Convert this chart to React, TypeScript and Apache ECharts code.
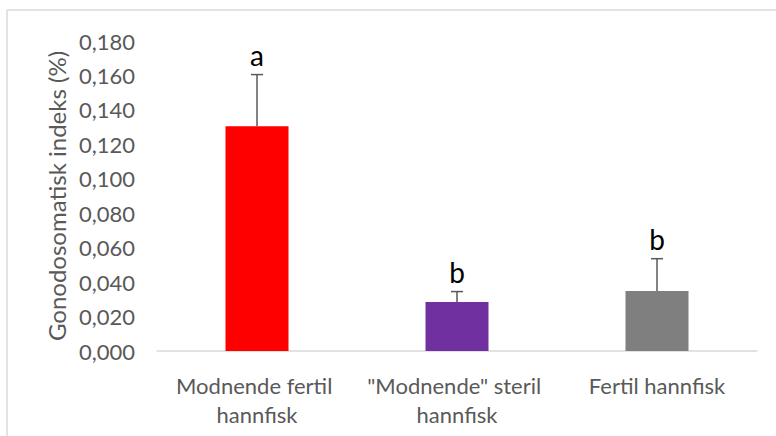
import React, { useEffect, useRef } from "react";
import * as echarts from "echarts";

const categories = ["Modnende fertil hannfisk", "\"Modnende\" steril hannfisk", "Fertil hannfisk"];
const means = [0.1305, 0.0285, 0.0348];
const errors = [0.03, 0.006, 0.0188];
const letters = ["a", "b", "b"];
const barColors = ["#ff0000", "#7030a0", "#7f7f7f"];
const yTitle = "Gonodosomatisk indeks (%)";

const FONT = "Lato";

export default function App() {
  const ref = useRef<HTMLDivElement>(null);
  useEffect(() => {
    if (!ref.current) return;
    const chart = echarts.init(ref.current, undefined, { renderer: "svg" });
    const errData = means.map((m, i) => [i, m, errors[i]]);
    chart.setOption({
      animation: false,
      backgroundColor: "#ffffff",
      textStyle: { fontFamily: FONT },
      grid: { left: 157, right: 19, top: 41, bottom: 85 },
      xAxis: {
        type: "category",
        data: categories,
        axisLine: { lineStyle: { color: "#d9d9d9", width: 1.5 } },
        axisTick: { show: false },
        axisLabel: {
          color: "#595959",
          fontSize: 22,
          fontFamily: FONT,
          margin: 20,
          width: 190,
          overflow: "break",
          lineHeight: 29,
          interval: 0,
        },
      },
      yAxis: {
        type: "value",
        min: 0,
        max: 0.18,
        interval: 0.02,
        axisLine: { show: false },
        axisTick: { show: false },
        splitLine: { show: false },
        axisLabel: {
          color: "#595959",
          fontSize: 22,
          fontFamily: FONT,
          margin: 22,
          formatter: (v: number) => v.toFixed(3).replace(".", ","),
        },
        name: yTitle,
        nameLocation: "middle",
        nameGap: 87,
        nameRotate: 90,
        nameTextStyle: { color: "#595959", fontSize: 24, fontFamily: FONT },
      },
      series: [
        {
          type: "bar",
          data: means.map((m, i) => ({ value: m, itemStyle: { color: barColors[i] } })),
          barWidth: "31.5%",
          z: 2,
        },
        {
          type: "custom",
          z: 3,
          data: errData,
          renderItem: (params: any, api: any) => {
            const x = api.value(0);
            const m = api.value(1);
            const e = api.value(2);
            const base = api.coord([x, m]);
            const top = api.coord([x, m + e]);
            const stroke = { stroke: "#595959", lineWidth: 1.5 };
            return {
              type: "group",
              children: [
                { type: "line", shape: { x1: base[0], y1: base[1], x2: top[0], y2: top[1] }, style: stroke },
                { type: "line", shape: { x1: top[0] - 6, y1: top[1], x2: top[0] + 6, y2: top[1] }, style: stroke },
                {
                  type: "text",
                  style: {
                    text: letters[params.dataIndex],
                    x: top[0],
                    y: top[1] - 6,
                    align: "center",
                    verticalAlign: "bottom",
                    fontSize: 28,
                    fontFamily: FONT,
                    fill: "#000000",
                  },
                },
              ],
            };
          },
        },
      ],
      graphic: [
        { type: "line", shape: { x1: 7, y1: 10, x2: 7, y2: 436 }, style: { stroke: "#d9d9d9", lineWidth: 1.5 } },
        { type: "line", shape: { x1: 7, y1: 10, x2: 776, y2: 10 }, style: { stroke: "#d9d9d9", lineWidth: 1.5 } },
      ],
    });
    return () => chart.dispose();
  }, []);
  return <div ref={ref} style={{ position: "absolute", left: 0, top: 0, width: 776, height: 436 }} />;
}
